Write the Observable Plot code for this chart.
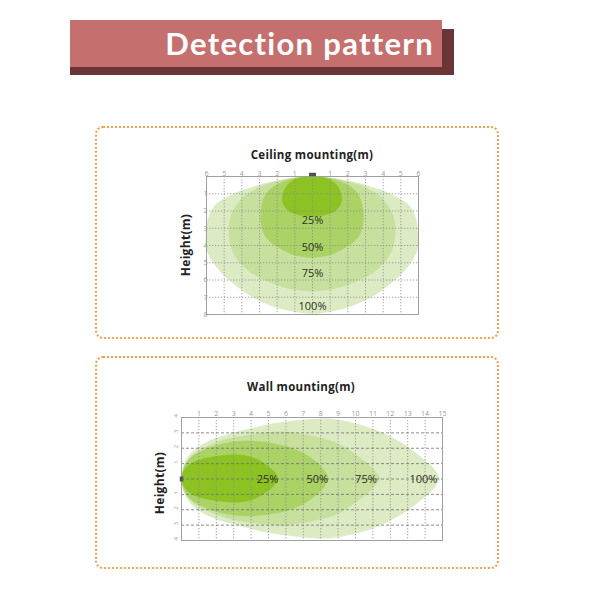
<!DOCTYPE html>
<html>
<head>
<meta charset="utf-8">
<script src="https://cdn.jsdelivr.net/npm/d3@7"></script>
<script src="https://cdn.jsdelivr.net/npm/@observablehq/plot@0.6"></script>
<style>
  html, body { margin: 0; padding: 0; background: #fff; }
  body { width: 600px; height: 600px; position: relative; overflow: hidden; font-family: "Open Sans", "DejaVu Sans", sans-serif; }
  .abs { position: absolute; }
  .shadow { left: 70px; top: 29px; width: 384px; height: 46px; background: #6c3535; }
  .banner { left: 70px; top: 20px; width: 372px; height: 47px; background: #c5706f; color: #fff;
            font-family: Lato, "Open Sans", sans-serif; font-weight: 700; font-size: 31px; line-height: 47px;
            letter-spacing: 1.3px; text-align: right; box-sizing: border-box; padding-right: 8px; white-space: nowrap; }
  .box { box-sizing: border-box; border: 2px dotted #f2a04a; border-radius: 8px; width: 404px; height: 213px; left: 95px; }
  .ttl { font-weight: 700; font-size: 11.5px; line-height: 13px; color: #222; text-align: center; width: 200px; letter-spacing: 0.3px; white-space: nowrap; }
  .ylab { font-weight: 700; font-size: 12px; line-height: 14px; color: #222; text-align: center; width: 90px; height: 14px; transform: rotate(-90deg); letter-spacing: 0.3px; }
</style>
</head>
<body>
<div class="abs shadow"></div>
<div class="abs banner">Detection pattern</div>
<div class="abs box" style="top:126px"></div>
<div class="abs box" style="top:356px"></div>
<div class="abs ttl" style="left:212px; top:148px">Ceiling mounting(m)</div>
<div class="abs ylab" style="left:141px; top:238px">Height(m)</div>
<div class="abs ttl" style="left:201px; top:380px">Wall mounting(m)</div>
<div class="abs ylab" style="left:115px; top:476px">Height(m)</div>
<div id="ceil" class="abs" style="left:176px; top:150px"></div>
<div id="wall" class="abs" style="left:150px; top:395px"></div>
<script>
// ---------- data ----------
const levels = ["25%", "50%", "75%", "100%"];

// Ceiling mounting: [depth below sensor (m), half width (m)]
const ceil25  = [[0,0],[0.1,0.7],[0.4,1.3],[1.0,1.65],[1.6,1.65],[2.0,1.35],[2.25,0.8],[2.35,0]];
const ceil50  = [[0,0],[0.1,0.9],[0.35,1.7],[0.7,2.3],[1.2,2.7],[2.0,2.9],[3.0,2.85],[3.7,2.5],[4.2,1.8],[4.6,1.0],[4.75,0]];
const ceil75  = [[0,0],[0.1,1.0],[0.35,2.2],[0.7,3.1],[1.3,4.0],[2.3,4.6],[3.5,4.7],[4.6,4.4],[5.5,3.6],[6.2,2.3],[6.6,1.0],[6.7,0]];
const ceil100 = [[0,0],[0.1,1.0],[0.35,2.4],[0.7,3.6],[1.1,4.6],[1.7,5.5],[2.5,5.9],[3.3,6.0],[4.2,6.0],[5.3,5.4],[6.2,4.5],[7.0,3.4],[7.6,2.1],[7.9,0.9],[8.0,0]];
const ceilLabelDepth = [2.55, 4.1, 5.65, 7.55];
const ceilXTicks = [-6,-5,-4,-3,-2,-1,1,2,3,4,5,6];
const ceilYTicks = [1,2,3,4,5,6,7,8];
const ceilGridX = [-5,-4,-3,-2,-1,0,1,2,3,4,5];
const ceilGridY = [1,2,3,4,5,6,7];
const ceilSensor = [{x: 0, y: 0}];

// Wall mounting: [distance from wall (m), half height (m)]
const wall25  = [[0,0],[0.2,0.6],[0.6,1.0],[1.3,1.3],[2.3,1.5],[3.4,1.55],[4.3,1.3],[4.9,0.9],[5.4,0.4],[5.6,0]];
const wall50  = [[0,0],[0.2,0.8],[0.6,1.4],[1.4,1.9],[2.5,2.3],[3.8,2.45],[5.3,2.3],[6.6,1.9],[7.6,1.25],[8.2,0.6],[8.5,0]];
const wall75  = [[0,0],[0.2,0.9],[0.7,1.6],[1.5,2.1],[2.7,2.6],[4.2,2.9],[5.8,3.05],[7.2,2.85],[8.8,2.4],[10.0,1.6],[10.9,0.8],[11.5,0]];
const wall100 = [[0,0],[0.2,1.0],[0.7,1.8],[1.6,2.45],[2.6,2.85],[3.8,3.2],[5.1,3.55],[6.8,3.8],[8.4,3.9],[9.8,3.65],[11.0,3.25],[12.1,2.7],[13.0,2.1],[13.8,1.4],[14.5,0.7],[14.9,0]];
const wallLabelDist = [4.95, 7.8, 10.6, 13.9];
const wallXTicks = [1,2,3,4,5,6,7,8,9,10,11,12,13,14,15];
const wallYTicks = [-4,-3,-2,-1,1,2,3,4];
const wallGridX = [1,2,3,4,5,6,7,8,9,10,11,12,13,14];
const wallGridY = [-3,-2,-1,0,1,2,3];
const wallSensor = [{x: 0, y: 0}];

// ---------- styles ----------
const fills = {"25%": "#8cc222", "50%": "#aad265", "75%": "#c7e09e", "100%": "#dcebc4"};
const tickColor = "#9a9a9a";
const rectSymbol = (w, h) => ({draw(ctx) { ctx.moveTo(-w/2, -h/2); ctx.lineTo(w/2, -h/2); ctx.lineTo(w/2, h/2); ctx.lineTo(-w/2, h/2); ctx.closePath(); }});

const shapeLevels = ["100%", "75%", "50%", "25%"];
const ceilShapes = [ceil100, ceil75, ceil50, ceil25];
const wallShapes = [wall100, wall75, wall50, wall25];

const ceilLabels = levels.map((t, i) => ({text: t, x: 0, y: ceilLabelDepth[i]}));
const wallLabels = levels.map((t, i) => ({text: t, x: wallLabelDist[i], y: 0}));

const ceilPlot = Plot.plot({
  width: 270, height: 180,
  marginTop: 26, marginRight: 28, marginBottom: 16, marginLeft: 30,
  x: {domain: [-6, 6], axis: null},
  y: {domain: [0, 8], reverse: true, axis: null},
  style: {background: "transparent", fontFamily: "'Open Sans', sans-serif", overflow: "visible"},
  marks: [
    ...ceilShapes.map((s, i) => Plot.areaX(s, {y: d => d[0], x1: d => -d[1], x2: d => d[1], fill: fills[shapeLevels[i]], curve: "catmull-rom"})),
    Plot.ruleX(ceilGridX, {stroke: "#8c8c8c", strokeWidth: 0.8, strokeDasharray: "1.3,1.7"}),
    Plot.ruleY(ceilGridY, {stroke: "#8c8c8c", strokeWidth: 0.8, strokeDasharray: "1.3,1.7"}),
    Plot.frame({stroke: "#a0a0a0"}),
    Plot.text(ceilXTicks, {x: d => d, frameAnchor: "top", dy: -5, text: d => Math.abs(d), fontSize: 7, fill: tickColor}),
    Plot.text(ceilYTicks, {y: d => d, frameAnchor: "left", dx: -3, text: d => d, fontSize: 7, fill: tickColor}),
    Plot.text(ceilLabels, {x: "x", y: "y", text: "text", fontSize: 11, fill: "#2d3322"}),
    Plot.dot(ceilSensor, {x: "x", y: "y", dy: -2, symbol: rectSymbol(7, 3.5), fill: "#4a5260", stroke: null})
  ]
});
document.getElementById("ceil").appendChild(ceilPlot);

const wallPlot = Plot.plot({
  width: 300, height: 155,
  marginTop: 22, marginRight: 8, marginBottom: 10, marginLeft: 31,
  x: {domain: [0, 15], axis: null},
  y: {domain: [-4, 4], axis: null},
  style: {background: "transparent", fontFamily: "'Open Sans', sans-serif", overflow: "visible"},
  marks: [
    ...wallShapes.map((s, i) => Plot.areaY(s, {x: d => d[0], y1: d => -d[1], y2: d => d[1], fill: fills[shapeLevels[i]], curve: "catmull-rom"})),
    Plot.ruleX(wallGridX, {stroke: "#8c8c8c", strokeWidth: 0.8, strokeDasharray: "1.3,1.7"}),
    Plot.ruleY(wallGridY, {stroke: "#707070", strokeWidth: 0.8, strokeDasharray: "3,2"}),
    Plot.frame({stroke: "#a0a0a0"}),
    Plot.text(wallXTicks, {x: d => d, frameAnchor: "top", dy: -6, text: d => d, fontSize: 7, fill: tickColor}),
    Plot.text(wallYTicks, {y: d => d, frameAnchor: "left", dx: -5, text: d => Math.abs(d), fontSize: 6, rotate: -90, fill: tickColor}),
    Plot.text(wallLabels, {x: "x", y: "y", text: "text", fontSize: 11, fill: "#2d3322"}),
    Plot.dot(wallSensor, {x: "x", y: "y", symbol: rectSymbol(3.5, 5), fill: "#4a5260", stroke: null})
  ]
});
document.getElementById("wall").appendChild(wallPlot);
</script>
</body>
</html>
